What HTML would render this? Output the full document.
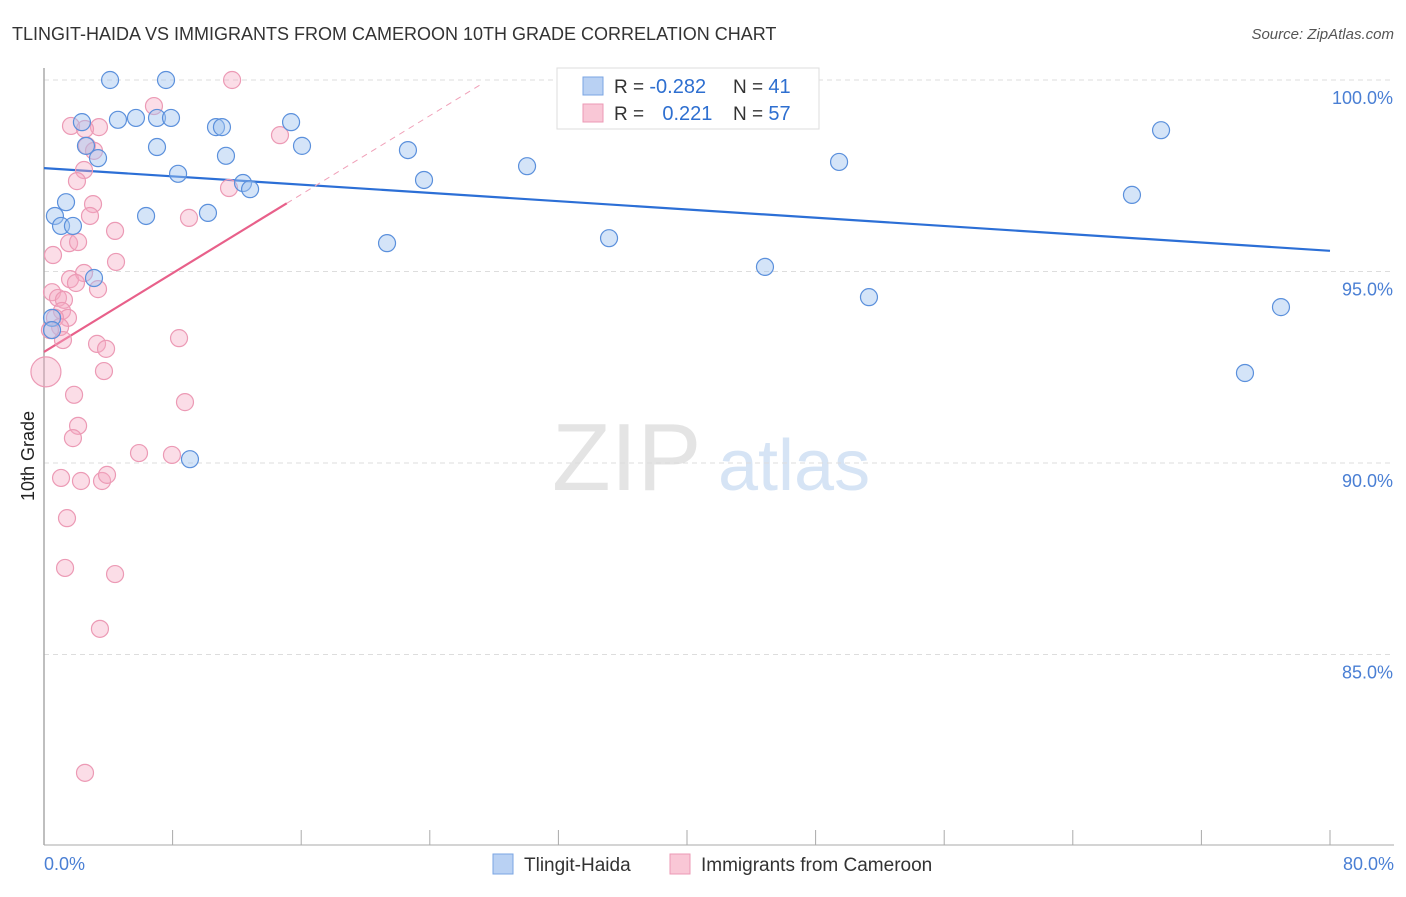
<!DOCTYPE html>
<html><head><meta charset="utf-8"><style>
body{margin:0;background:#fff;font-family:"Liberation Sans",sans-serif}
svg text{font-family:"Liberation Sans",sans-serif}
</style></head><body>
<svg id="chart" width="1406" height="892" xmlns="http://www.w3.org/2000/svg">
<text x="12" y="40" font-size="18" fill="#333">TLINGIT-HAIDA VS IMMIGRANTS FROM CAMEROON 10TH GRADE CORRELATION CHART</text>
<text x="1394" y="39" font-size="15" fill="#555" text-anchor="end" font-style="italic">Source: ZipAtlas.com</text>
<g>
<text x="552" y="490" font-size="96" fill="#e4e4e4" font-family="Liberation Serif">ZIP</text>
<text x="718" y="490" font-size="72" fill="#d6e4f5">atlas</text>
</g>
<g id="grid"></g>
<line x1="44" y1="68" x2="44" y2="845" stroke="#aaa" stroke-width="1.5"/>
<line x1="44" y1="845" x2="1394" y2="845" stroke="#aaa" stroke-width="1"/>
<g id="ticks"></g>
<text transform="translate(34,456) rotate(-90)" font-size="18" fill="#222" text-anchor="middle">10th Grade</text>
<text x="44" y="870" font-size="18" fill="#4a7fd4">0.0%</text>
<text x="1394" y="870" font-size="18" fill="#4a7fd4" text-anchor="end">80.0%</text>
<g id="lines"></g>
<g id="points"></g>
<g>
<rect x="557" y="68" width="262" height="61" fill="#fff" stroke="#ddd"/>
<rect x="583" y="77" width="20" height="18" fill="#b9d1f3" stroke="#7aa5e3"/>
<rect x="583" y="104" width="20" height="18" fill="#f9c7d6" stroke="#ec9ab5"/>
<text x="614" y="93" font-size="19" fill="#333">R = <tspan fill="#2e6fd0" font-size="20">-0.282</tspan></text>
<text x="733" y="93" font-size="19" fill="#333">N = <tspan fill="#2e6fd0" font-size="20">41</tspan></text>
<text x="614" y="120" font-size="19" fill="#333">R = <tspan fill="#2e6fd0" dx="13" font-size="20">0.221</tspan></text>
<text x="733" y="120" font-size="19" fill="#333">N = <tspan fill="#2e6fd0" font-size="20">57</tspan></text>
</g>
<g>
<rect x="493" y="854" width="20" height="20" fill="#b9d1f3" stroke="#7aa5e3"/>
<text x="524" y="871" font-size="19" fill="#333">Tlingit-Haida</text></g>
<g>
<rect x="670" y="854" width="20" height="20" fill="#f9c7d6" stroke="#ec9ab5"/>
<text x="701" y="871" font-size="19" fill="#333">Immigrants from Cameroon</text></g>
</svg>
<script>
const yTicks=[100,95,90,85];
const yTickLabels=["100.0%","95.0%","90.0%","85.0%"];
const xTicks=[8,16,24,32,40,48,56,64,72,80];
const blueX=[4.11,7.59,36.64,2.36,4.6,5.72,7.03,7.9,10.7,11.07,15.37,2.61,7.03,16.05,22.64,3.36,11.32,69.49,30.05,49.46,8.34,23.64,12.38,12.82,67.68,1.37,0.68,6.35,10.2,1.06,1.8,21.34,35.15,44.85,3.11,51.32,76.95,74.71,9.08,0.5,0.5];
const blueY=[100,100,100.05,98.9,98.96,99.01,99.01,99.01,98.77,98.77,98.9,98.28,98.25,98.28,98.17,97.96,98.02,98.69,97.75,97.86,97.55,97.39,97.31,97.15,97,96.81,96.45,96.45,96.53,96.19,96.19,95.74,95.87,95.12,94.83,94.33,94.07,92.35,90.1,93.79,93.47];
const pinkX=[11.7,6.84,1.68,3.42,2.55,14.68,2.67,3.11,2.49,2.05,11.51,3.05,2.86,9.02,4.42,1.56,2.12,0.56,4.48,1.62,2.49,1.99,3.36,0.5,0.87,1.24,1.12,1.49,0.68,1,0.37,1.18,3.3,3.86,8.4,0.12,3.73,1.87,8.77,2.12,1.8,5.91,7.96,1.06,2.3,3.61,3.92,1.43,1.31,4.42,3.48,2.55];
const pinkY=[100,99.32,98.8,98.77,98.72,98.56,98.28,98.15,97.65,97.36,97.18,96.76,96.45,96.4,96.06,95.74,95.77,95.43,95.25,94.8,94.96,94.7,94.54,94.46,94.31,94.26,93.97,93.79,93.79,93.55,93.47,93.21,93.11,92.98,93.26,92.38,92.4,91.78,91.59,90.97,90.65,90.26,90.21,89.61,89.53,89.53,89.69,88.56,87.26,87.1,85.67,81.91];
const blueTrend=[97.7,95.54];      // value at x=0 and x=80
const pinkTrend=[92.9,0.257];      // intercept, slope
const X=v=>44+v*16.075, Y=v=>80+(100-v)*38.3;
const NS="http://www.w3.org/2000/svg";
function mk(t,a,p){const e=document.createElementNS(NS,t);for(const k in a)e.setAttribute(k,a[k]);p.appendChild(e);return e;}
const grid=document.getElementById('grid');
yTicks.forEach((v,i)=>{
 const l=mk('line',{x1:44,x2:1394,y1:Y(v),y2:Y(v),stroke:'#ddd','stroke-dasharray':'5,4'},grid);
 
 
 const t=mk('text',{x:1393,y:Y(v)+24,'font-size':18,fill:'#4a7fd4','text-anchor':'end'},grid);
 t.textContent=yTickLabels[i];
 
 
});
const tk=document.getElementById('ticks');
xTicks.forEach(v=>{
 const l=mk('line',{x1:X(v),x2:X(v),y1:830,y2:845,stroke:'#aaa'},tk);
 
 
});
const lg=document.getElementById('lines');
const bl=mk('line',{x1:X(0),y1:Y(blueTrend[0]),x2:X(80),y2:Y(blueTrend[1]),stroke:'#2c6fd6','stroke-width':2.2},lg);


const pd=mk('line',{x1:X(15.1),y1:Y(pinkTrend[0]+pinkTrend[1]*15.1),x2:X(27.3),y2:Y(pinkTrend[0]+pinkTrend[1]*27.3),stroke:'#f0a0b8','stroke-width':1,'stroke-dasharray':'6,5'},lg);


const pl=mk('line',{x1:X(0),y1:Y(pinkTrend[0]),x2:X(15.1),y2:Y(pinkTrend[0]+pinkTrend[1]*15.1),stroke:'#e8608a','stroke-width':2.2},lg);


const pg=document.getElementById('points');
pinkX.forEach((x,i)=>{
 const c=mk('circle',{cx:X(x),cy:Y(pinkY[i]),r:i==35?15:8.5,fill:'rgba(246,170,195,0.4)',stroke:'#ec9ab5','stroke-width':1.2},pg);
 
 
});
blueX.forEach((x,i)=>{
 const c=mk('circle',{cx:X(x),cy:Y(blueY[i]),r:8.5,fill:'rgba(160,195,240,0.45)',stroke:'#5b90dc','stroke-width':1.2},pg);
 
 
});
</script>
</body></html>
